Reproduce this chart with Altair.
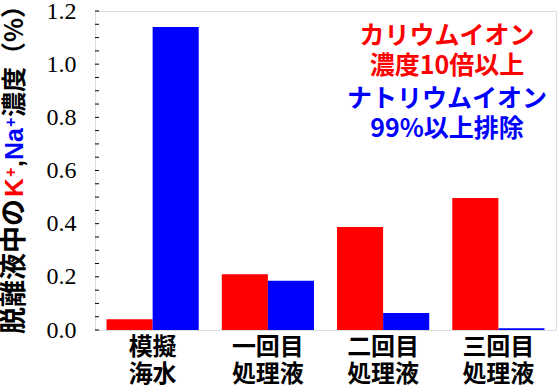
import altair as alt
import pandas as pd

categories = ["模擬\n海水", "一回目\n処理液", "二回目\n処理液", "三回目\n処理液"]
k_values = [0.04, 0.21, 0.387, 0.497]
na_values = [1.14, 0.185, 0.064, 0.007]
ions = ["K", "Na"]
ion_colors = ["#ff0000", "#0000ff"]
y_labels = [0.0, 0.2, 0.4, 0.6, 0.8, 1.0, 1.2]
minor_ticks = [0.0, 0.05, 0.1, 0.15, 0.2, 0.25, 0.3, 0.35, 0.4, 0.45, 0.5, 0.55,
               0.6, 0.65, 0.7, 0.75, 0.8, 0.85, 0.9, 0.95, 1.0, 1.05, 1.1, 1.15, 1.2]
note_lines = ["カリウムイオン", "濃度10倍以上", "ナトリウムイオン", "99%以上排除"]
note_colors = ["#ff0000", "#ff0000", "#0000ff", "#0000ff"]

rows = []
for c, k, n in zip(categories, k_values, na_values):
    rows.append({"cat": c, "ion": "K", "val": k})
    rows.append({"cat": c, "ion": "Na", "val": n})
df = pd.DataFrame(rows)

CJK = "Noto Sans CJK JP"
yscale = alt.Scale(domain=[0, 1.2], nice=False)

bars = alt.Chart(df).mark_bar().encode(
    x=alt.X("cat:N", sort=categories, title=None,
            scale=alt.Scale(paddingInner=0.2, paddingOuter=0.1),
            axis=alt.Axis(labelExpr="split(datum.label, '\\n')", labelAngle=0,
                          labelFont=CJK, labelFontSize=24, labelFontWeight="bold",
                          labelColor="black", labelLineHeight=27, labelPadding=5,
                          ticks=False, domain=False, labelBaseline="top")),
    xOffset=alt.XOffset("ion:N", sort=ions, scale=alt.Scale(paddingInner=0, paddingOuter=0)),
    y=alt.Y("val:Q", scale=yscale, title=None,
            axis=alt.Axis(values=y_labels, format=".1f", labelFont="Liberation Serif",
                          labelFontSize=24, labelColor="black", ticks=False,
                          domain=False, grid=False, labelPadding=19)),
    color=alt.Color("ion:N", scale=alt.Scale(domain=ions, range=ion_colors), legend=None),
)

ticks = alt.Chart(pd.DataFrame({"t": minor_ticks})).mark_rule(color="black", strokeWidth=1).encode(
    y=alt.Y("t:Q", scale=yscale),
    x=alt.value(0), x2=alt.value(4),
)

note_y = [25, 55, 88, 118]
notes = []
for txt, col, yy in zip(note_lines, note_colors, note_y):
    notes.append(alt.Chart(pd.DataFrame({"t": [txt]})).mark_text(
        font=CJK, fontSize=25, fontWeight="bold", color=col, align="center", baseline="middle"
    ).encode(text="t:N", x=alt.value(352), y=alt.value(yy)))

# y title segments (rotated)
title_segments = [
    ("脱離液中の", "black", CJK, 27, -80, 323),
    ("K", "#ff0000", "Liberation Sans", 26, -80, 186),
    ("+", "#ff0000", "Liberation Sans", 16, -84, 166),
    (",", "black", "Liberation Sans", 25, -80, 156),
    ("Na", "#0000ff", "Liberation Sans", 25, -80, 149),
    ("+", "#0000ff", "Liberation Sans", 16, -84, 116),
    ("濃度（%）", "black", CJK, 25, -80, 106),
]
title_layers = []
for txt, col, fnt, fs, xx, yy in title_segments:
    title_layers.append(alt.Chart(pd.DataFrame({"t": [txt]})).mark_text(
        font=fnt, fontSize=fs, fontWeight="bold", color=col, align="left",
        baseline="middle", angle=270
    ).encode(text="t:N", x=alt.value(xx), y=alt.value(yy)))

chart = alt.layer(bars, ticks, *notes, *title_layers).properties(
    width=461, height=319,
    autosize=alt.AutoSizeParams(type="none"),
    padding={"left": 95, "top": 11, "right": 4, "bottom": 60},
).configure_view(stroke="black", strokeWidth=1.5).configure(background="white")

chart.save("out.html", embed_options={"renderer": "svg", "actions": False})
